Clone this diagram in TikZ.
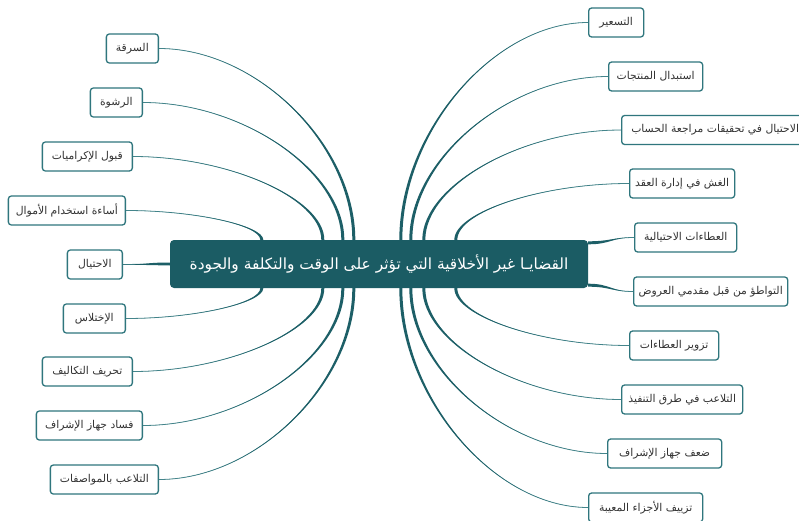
\documentclass[tikz,border=0pt]{standalone}
\usepackage{fontspec}
\usetikzlibrary{calc}
\TeXXeTstate=1
\newfontfamily\arabicfont[Script=Arabic]{DejaVu Sans}
\newcommand\artxt[1]{\beginR #1\endR}
\definecolor{centerfill}{HTML}{1B5C64}
\definecolor{leafborder}{HTML}{2F767D}
\definecolor{connfill}{HTML}{1D5F67}
\definecolor{connline}{HTML}{4A8B91}
\tikzset{
  leaf/.style={draw=leafborder, line width=1.3pt, rounded corners=3pt, fill=white,
    minimum height=29pt, inner xsep=5pt, inner ysep=2pt, text=black!80,
    font=\arabicfont\fontsize{10.8}{12}\selectfont},
  centre/.style={fill=centerfill, rounded corners=4pt, minimum width=418pt,
    minimum height=48pt, text=white, font=\arabicfont\fontsize{15.4}{18}\selectfont},
  cfill/.style={fill=connfill},
  cline/.style={draw=connline, line width=0.8pt}
}
% vertical start (top/bottom of centre), horizontal arrival
\newcommand\taperV[2]{%
  \path #1 coordinate (tA) #2 coordinate (tB);
  \path ($(tA)!0.5!(tA |- tB)$) coordinate (tC) ($(tB)!0.5!(tB -| tA)$) coordinate (tD);
  \path ($(tA)!1.5pt!90:(tC)$) coordinate (tP) ($(tA)!1.5pt!-90:(tC)$) coordinate (tQ);
  \draw[cline] (tA) .. controls (tC) and (tD) .. (tB);
  \fill[cfill] (tP) .. controls ($(tC)+(tP)-(tA)$) and (tD) .. (tB)
     .. controls (tD) and ($(tC)+(tQ)-(tA)$) .. (tQ) -- cycle;
}
% horizontal start (side of centre), horizontal arrival
\newcommand\taperH[2]{%
  \path #1 coordinate (tA) #2 coordinate (tB);
  \path ($(tA)!0.5!(tA -| tB)$) coordinate (tC) ($(tB)!0.5!(tB -| tA)$) coordinate (tD);
  \path ($(tA)!1.5pt!90:(tC)$) coordinate (tP) ($(tA)!1.5pt!-90:(tC)$) coordinate (tQ);
  \draw[cline] (tA) .. controls (tC) and (tD) .. (tB);
  \fill[cfill] (tP) .. controls ($(tC)+(tP)-(tA)$) and (tD) .. (tB)
     .. controls (tD) and ($(tC)+(tQ)-(tA)$) .. (tQ) -- cycle;
}
\begin{document}
\begin{tikzpicture}[x=1pt, y=-1pt]
\fill[white] (0,0) rectangle (799,521);
\useasboundingbox (0,0) rectangle (799,521);

\node[centre] (C) at (379,264) {\artxt{القضايـا غير الأخلاقية التي تؤثر على الوقت والتكلفة والجودة}};

% left leaves (anchored at right edge)
\node[leaf, minimum width=52pt, anchor=east]  (L1) at (159,48.5)  {\artxt{السرقة}};
\node[leaf, minimum width=52pt, anchor=east]  (L2) at (143,102.5) {\artxt{الرشوة}};
\node[leaf, minimum width=90pt, anchor=east]  (L3) at (133,156.5) {\artxt{قبول الإكراميات}};
\node[leaf, minimum width=117pt, anchor=east] (L4) at (126,210.5) {\artxt{أساءة استخدام الأموال}};
\node[leaf, minimum width=55pt, anchor=east]  (L5) at (123,264.5) {\artxt{الاحتيال}};
\node[leaf, minimum width=62pt, anchor=east]  (L6) at (126,318.5) {\artxt{الإختلاس}};
\node[leaf, minimum width=90pt, anchor=east]  (L7) at (133,371.5) {\artxt{تحريف التكاليف}};
\node[leaf, minimum width=106pt, anchor=east] (L8) at (143,425.5) {\artxt{فساد جهاز الإشراف}};
\node[leaf, minimum width=108pt, anchor=east] (L9) at (159,479.5) {\artxt{التلاعب بالمواصفات}};

% right leaves (anchored at left edge)
\node[leaf, minimum width=55pt, anchor=west]  (R1) at (588,22.5)  {\artxt{التسعير}};
\node[leaf, minimum width=94pt, anchor=west]  (R2) at (608,76.5)  {\artxt{استبدال المنتجات}};
\node[leaf, minimum width=187pt, anchor=west] (R3) at (621,130)   {\artxt{الاحتيال في تحقيقات مراجعة الحساب}};
\node[leaf, minimum width=105pt, anchor=west] (R4) at (629,183.5) {\artxt{الغش في إدارة العقد}};
\node[leaf, minimum width=102pt, anchor=west] (R5) at (634,237.5) {\artxt{العطاءات الاحتيالية}};
\node[leaf, minimum width=154pt, anchor=west] (R6) at (633,291.5) {\artxt{التواطؤ من قبل مقدمي العروض}};
\node[leaf, minimum width=89pt, anchor=west]  (R7) at (629,345.5) {\artxt{تزوير العطاءات}};
\node[leaf, minimum width=121pt, anchor=west] (R8) at (621,399.5) {\artxt{التلاعب في طرق التنفيذ}};
\node[leaf, minimum width=114pt, anchor=west] (R9) at (607,453.5) {\artxt{ضعف جهاز الإشراف}};
\node[leaf, minimum width=114pt, anchor=west] (R10) at (588,507.5) {\artxt{تزييف الأجزاء المعيبة}};

% connectors, left top
\taperV{([xshift=184pt]C.north west)}{(L1.east)}
\taperV{([xshift=173pt]C.north west)}{(L2.east)}
\taperV{([xshift=153pt]C.north west)}{(L3.east)}
\taperV{([xshift=92pt]C.north west)}{(L4.east)}
\taperH{(C.west)}{(L5.east)}
% left bottom
\taperV{([xshift=92pt]C.south west)}{(L6.east)}
\taperV{([xshift=153pt]C.south west)}{(L7.east)}
\taperV{([xshift=173pt]C.south west)}{(L8.east)}
\taperV{([xshift=184pt]C.south west)}{(L9.east)}
% right top
\taperV{([xshift=231pt]C.north west)}{(R1.west)}
\taperV{([xshift=241pt]C.north west)}{(R2.west)}
\taperV{([xshift=254pt]C.north west)}{(R3.west)}
\taperV{([xshift=286pt]C.north west)}{(R4.west)}
\taperH{([yshift=-3pt]C.north east)}{(R5.west)}
\taperH{([yshift=3pt]C.south east)}{(R6.west)}
% right bottom
\taperV{([xshift=286pt]C.south west)}{(R7.west)}
\taperV{([xshift=254pt]C.south west)}{(R8.west)}
\taperV{([xshift=241pt]C.south west)}{(R9.west)}
\taperV{([xshift=231pt]C.south west)}{(R10.west)}
\end{tikzpicture}
\end{document}
